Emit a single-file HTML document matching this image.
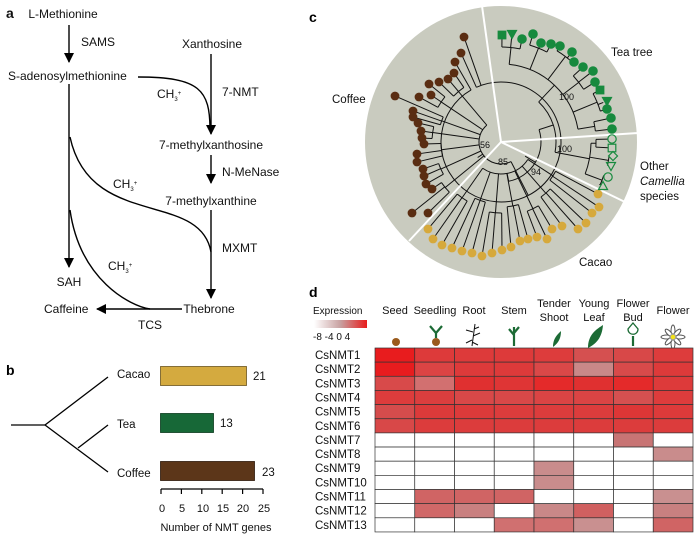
<!DOCTYPE html>
<html><head><meta charset="utf-8"><style>
html,body{margin:0;padding:0;background:#fff;}
svg{display:block;font-family:"Liberation Sans",Arial,sans-serif;}
</style></head><body>
<svg id="s" width="700" height="538" viewBox="0 0 700 538" xmlns="http://www.w3.org/2000/svg">
<defs>
<marker id="ar" markerWidth="10" markerHeight="10" refX="9" refY="5" orient="auto" markerUnits="userSpaceOnUse"><path d="M0,0 L10,5 L0,10 z" fill="#000"/></marker>
<linearGradient id="gr" x1="0" x2="1"><stop offset="0" stop-color="#fff"/><stop offset="0.5" stop-color="#c8a0a0"/><stop offset="1" stop-color="#e81c1c"/></linearGradient>
</defs>
<!-- panel a -->
<g font-size="12" fill="#111">
<text x="6" y="18" font-size="14" font-weight="bold">a</text>
<text x="63" y="18" text-anchor="middle">L-Methionine</text>
<text x="81" y="46">SAMS</text>
<text x="212" y="48" text-anchor="middle">Xanthosine</text>
<text x="8" y="80">S-adenosylmethionine</text>
<text x="222" y="96">7-NMT</text>
<text x="157" y="98">CH<tspan font-size="6" dy="3">3</tspan><tspan font-size="6" dy="-6">+</tspan></text>
<text x="211" y="149" text-anchor="middle">7-methylxanthosine</text>
<text x="222" y="176">N-MeNase</text>
<text x="113" y="188">CH<tspan font-size="6" dy="3">3</tspan><tspan font-size="6" dy="-6">+</tspan></text>
<text x="211" y="205" text-anchor="middle">7-methylxanthine</text>
<text x="222" y="252">MXMT</text>
<text x="108" y="270">CH<tspan font-size="6" dy="3">3</tspan><tspan font-size="6" dy="-6">+</tspan></text>
<text x="69" y="286" text-anchor="middle">SAH</text>
<text x="44" y="313">Caffeine</text>
<text x="209" y="313" text-anchor="middle">Thebrone</text>
<text x="150" y="329" text-anchor="middle">TCS</text>
</g>
<g stroke="#000" stroke-width="1.4" fill="none">
<line x1="69" y1="25" x2="69" y2="62" marker-end="url(#ar)"/>
<line x1="69" y1="84" x2="69" y2="267" marker-end="url(#ar)"/>
<line x1="211" y1="54" x2="211" y2="134" marker-end="url(#ar)"/>
<path d="M138,77 C200,77 210,90 210,130"/>
<line x1="211" y1="155" x2="211" y2="183" marker-end="url(#ar)"/>
<line x1="211" y1="210" x2="211" y2="298" marker-end="url(#ar)"/>
<path d="M70,137 C90,230 200,190 211,252"/>
<path d="M70,210 C80,280 130,306 150,309"/>
<line x1="182" y1="309" x2="97" y2="309" marker-end="url(#ar)"/>
</g>
<!-- panel b -->
<text x="6" y="375" font-size="14" font-weight="bold">b</text>
<g stroke="#000" stroke-width="1.3" fill="none">
<line x1="11" y1="425" x2="45" y2="425"/>
<line x1="45" y1="425" x2="108" y2="377"/>
<line x1="45" y1="425" x2="108" y2="472"/>
<line x1="78" y1="448" x2="108" y2="425"/>
</g>
<g font-size="11.5" fill="#111">
<text x="117" y="378">Cacao</text><text x="117" y="428">Tea</text><text x="117" y="477">Coffee</text>
<text x="253" y="380">21</text><text x="220" y="427">13</text><text x="262" y="476">23</text>
</g>
<rect x="160.5" y="366.5" width="86" height="19" fill="#d4aa3f" stroke="#6b5520" stroke-width="0.8"/>
<rect x="160.5" y="413.5" width="53" height="19" fill="#176837" stroke="#0b3a1d" stroke-width="0.8"/>
<rect x="160.5" y="461.5" width="94" height="19" fill="#5c3619" stroke="#2d1a0a" stroke-width="0.8"/>
<g stroke="#000" stroke-width="1.2">
<line x1="161" y1="489" x2="263" y2="489"/>
<line x1="161" y1="489" x2="161" y2="494"/><line x1="181.4" y1="489" x2="181.4" y2="494"/><line x1="201.8" y1="489" x2="201.8" y2="494"/><line x1="222.2" y1="489" x2="222.2" y2="494"/><line x1="242.6" y1="489" x2="242.6" y2="494"/><line x1="263" y1="489" x2="263" y2="494"/>
</g>
<g font-size="11" fill="#111" text-anchor="middle">
<text x="162" y="512">0</text><text x="182" y="512">5</text><text x="203" y="512">10</text><text x="223" y="512">15</text><text x="243" y="512">20</text><text x="264" y="512">25</text>
<text x="216" y="531">Number of NMT genes</text>
</g>
<!-- panel c -->
<text x="309" y="22" font-size="14" font-weight="bold">c</text>
<circle cx="501" cy="142" r="136" fill="#c9cbbf"/>
<g id="tree" stroke="#111" stroke-width="1" fill="none"></g>
<g stroke="#fff" stroke-width="2">
<line x1="501" y1="142" x2="482" y2="6"/>
<line x1="501" y1="142" x2="638" y2="133"/>
<line x1="501" y1="142" x2="625" y2="202"/>
<line x1="501" y1="142" x2="409" y2="241"/>
</g>
<g id="leaves"></g>
<g font-size="11.5" fill="#111">
<text x="332" y="103">Coffee</text>
<text x="611" y="56">Tea tree</text>
<text x="640" y="170">Other</text>
<text x="640" y="185" font-style="italic">Camellia</text>
<text x="640" y="200">species</text>
<text x="579" y="266">Cacao</text>
</g>
<g font-size="9" fill="#111">
<text x="480" y="148">56</text><text x="559" y="100">100</text><text x="557" y="152">100</text><text x="498" y="165">85</text><text x="531" y="175">94</text>
</g>
<!-- panel d -->
<text x="309" y="297" font-size="14" font-weight="bold">d</text>
<text x="313" y="314" font-size="10" fill="#111">Expression</text>
<rect x="314" y="320" width="53" height="8" fill="url(#gr)"/>
<text x="313" y="340" font-size="10" fill="#111">-8 -4  0  4</text>
<g font-size="11" fill="#111" text-anchor="middle">
<text x="395" y="314">Seed</text><text x="435" y="314">Seedling</text><text x="474" y="314">Root</text><text x="514" y="314">Stem</text>
<text x="554" y="307">Tender</text><text x="554" y="321">Shoot</text>
<text x="594" y="307">Young</text><text x="594" y="321">Leaf</text>
<text x="633" y="307">Flower</text><text x="633" y="321">Bud</text>
<text x="673" y="314">Flower</text>
</g>
<!-- icons -->
<circle cx="396" cy="342" r="4" fill="#9a5a1c"/>
<circle cx="436" cy="342" r="4" fill="#9a5a1c"/>
<g stroke="#1c6b35" stroke-width="2.2" fill="none">
<path d="M436,338 L436,332 M436,333 L430,326 M436,333 L442,326"/>
<path d="M514,346 L514,327 M514,335 L509,329 M514,333 L519,327"/>
<path d="M633,346 L633,336"/>
</g>
<g stroke="#111" stroke-width="1" fill="none">
<path d="M475,324 L472,346 M473,332 L466,330 M473,336 L480,333 M472,340 L466,343 M474,329 L479,327 M472,342 L478,345"/>
</g>
<path d="M553,347 C553,338 558,334 561,331 C561,340 557,344 553,347 z" fill="#1c6b35"/>
<path d="M588,348 C588,334 597,329 603,325 C602,338 596,344 588,348 z" fill="#1c6b35"/>
<path d="M628,329 C628,336 638,336 638,329 L633,323 z" fill="#fff" stroke="#1c6b35" stroke-width="1.3"/>
<g stroke="#555" stroke-width="1" fill="#fff">
<ellipse cx="673" cy="331" rx="2" ry="6"/><ellipse cx="673" cy="343" rx="2" ry="6"/>
<ellipse cx="667" cy="337" rx="6" ry="2"/><ellipse cx="679" cy="337" rx="6" ry="2"/>
<ellipse cx="669" cy="333" rx="2" ry="5" transform="rotate(-45 669 333)"/><ellipse cx="677" cy="341" rx="2" ry="5" transform="rotate(-45 677 341)"/>
<ellipse cx="677" cy="333" rx="2" ry="5" transform="rotate(45 677 333)"/><ellipse cx="669" cy="341" rx="2" ry="5" transform="rotate(45 669 341)"/>
<circle cx="673" cy="337" r="2.8" fill="#f3e21a" stroke="#999"/>
</g>
<g id="hm"></g>
<g id="rl" font-size="11.5" fill="#111"></g>
</svg>
<script>
var NS="http://www.w3.org/2000/svg";
function el(p,t,a){var e=document.createElementNS(NS,t);for(var k in a)e.setAttribute(k,a[k]);p.appendChild(e);return e;}
var W="#ffffff";
var rows=[
["#e81c1e","#dd3a3a","#dd3a3a","#dd3a3a","#dd3c3c","#d55050","#d84848","#dd3c3c"],
["#e81c1e","#db4444","#dd3a3a","#dd3a3a","#da4848","#c98888","#d84a4a","#dd3a3a"],
["#d84a4a","#d27070","#e03030","#df3535","#e42a2a","#e03030","#e42a2a","#dd3a3a"],
["#dd3c3c","#db3e3e","#d84848","#d84848","#da4444","#da4444","#d55050","#dd3c3c"],
["#d54c4c","#dc3a3a","#dc3a3a","#dc3c3c","#dc3c3c","#dc3c3c","#dd3636","#dd3a3a"],
["#d84848","#dc3c3c","#dc3c3c","#dc3c3c","#dc3c3c","#dc3c3c","#dc3c3c","#dc3c3c"],
[W,W,W,W,W,W,"#c87474",W],
[W,W,W,W,W,W,W,"#c98c8c"],
[W,W,W,W,"#c98c8c",W,W,W],
[W,W,W,W,"#c98c8c",W,W,W],
[W,"#d06464","#d06464","#d06464",W,W,W,"#c99090"],
[W,"#d06868","#c98080",W,"#c98888","#d06060",W,"#c88080"],
[W,W,W,"#d07070","#d07070","#c99090",W,"#d06464"]];
var hm=document.getElementById("hm"),rl=document.getElementById("rl");
var x0=375,y0=348,cw=39.75,rh=14.15;
for(var r=0;r<13;r++){for(var c=0;c<8;c++){el(hm,"rect",{x:x0+c*cw,y:y0+r*rh,width:cw,height:rh,fill:rows[r][c],stroke:"#333","stroke-width":0.7});}
var t=el(rl,"text",{x:315,y:y0+r*rh+11});t.textContent="CsNMT"+(r+1);}
var cx=501,cy=142,tr=document.getElementById("tree"),lv=document.getElementById("leaves");
function pol(a,r){return [cx+r*Math.cos(a),cy+r*Math.sin(a)];}
function ang(p){return Math.atan2(p[1]-cy,p[0]-cx);}
function dist(p){return Math.hypot(p[0]-cx,p[1]-cy);}
function arc(a1,a2,r){var p=pol(a1,r),q=pol(a2,r);var big=Math.abs(a2-a1)>Math.PI?1:0;var sw=a2>a1?1:0;el(tr,"path",{d:"M"+p[0]+","+p[1]+" A"+r+","+r+" 0 "+big+" "+sw+" "+q[0]+","+q[1]});}
function rad(a,r1,r2){var p=pol(a,r1),q=pol(a,r2);el(tr,"line",{x1:p[0],y1:p[1],x2:q[0],y2:q[1]});}
function group(pts,rin,rbase,sub){
 var as=pts.map(function(p){var a=ang(p);if(a<-2)a+=2*Math.PI;return a;});
 var mids=[];
 for(var i=0;i<pts.length;i+=sub){var s=as.slice(i,i+sub),ps=pts.slice(i,i+sub);
  var rr=rin+((i*7)%15);
  for(var j=0;j<s.length;j++){rad(s[j],dist(ps[j])-4,rr);}
  if(s.length>1)arc(Math.min.apply(null,s),Math.max.apply(null,s),rr);
  var m=(Math.min.apply(null,s)+Math.max.apply(null,s))/2;mids.push(m);rad(m,rr,rbase);}
 arc(Math.min.apply(null,mids),Math.max.apply(null,mids),rbase);
 return (Math.min.apply(null,mids)+Math.max.apply(null,mids))/2;}
var coffee=[[464,37],[461,53],[455,62],[454,73],[448,79],[439,82],[429,84],[431,95],[419,97],[395,96],[413,111],[413,117],[418,123],[421,131],[422,138],[424,144],[417,154],[417,162],[423,169],[424,176],[426,184],[432,189],[428,213],[412,213]];
var tea=[[502,35],[512,34],[522,39],[533,34],[541,43],[551,44],[560,46],[572,52],[574,62],[583,67],[593,71],[595,82],[600,90],[607,101],[607,109],[611,118],[612,129]];
var oth=[[612,139],[612,148],[613,156],[611,166],[608,177],[603,186]];
var cac=[[598,194],[599,207],[592,213],[586,223],[578,229],[562,226],[552,229],[547,239],[537,237],[528,239],[520,241],[511,247],[502,250],[492,253],[482,256],[472,253],[462,251],[452,248],[442,245],[433,239],[428,229]];
var m1=group(coffee,60,22,3);
var m2=group(tea,95,78,3);
var m3=group(oth,95,90,2);
var m4=group(cac,62,32,3);
rad(m2,78,55);rad(m3,90,55);arc(Math.min(m2,m3),Math.max(m2,m3),55);
var mt=(m2+m3)/2;rad(mt,55,40);rad(m4,32,40);arc(Math.min(mt,m4),Math.max(mt,m4),40);
rad((mt+m4)/2,40,28);rad(m1,22,28);
var green="#178a3e",gold="#d6a93c",brown="#5a2d12";
coffee.forEach(function(p){el(lv,"circle",{cx:p[0],cy:p[1],r:4.4,fill:brown});});
cac.forEach(function(p){el(lv,"circle",{cx:p[0],cy:p[1],r:4.4,fill:gold});});
var ts=["sq","td","c","c","c","c","c","c","c","c","c","c","sq","td","c","c","c"];
function shape(p,k,fill,stroke){var x=p[0],y=p[1];var a={fill:fill,stroke:stroke,"stroke-width":1.2};
 if(k=="c"){a.cx=x;a.cy=y;a.r=4.2;el(lv,"circle",a);}
 else if(k=="sq"){a.x=x-3.8;a.y=y-3.8;a.width=7.6;a.height=7.6;el(lv,"rect",a);}
 else{var d;if(k=="td")d="M"+(x-4.5)+","+(y-3.5)+" L"+(x+4.5)+","+(y-3.5)+" L"+x+","+(y+4.5)+"z";
  else if(k=="tu")d="M"+(x-4.5)+","+(y+3.5)+" L"+(x+4.5)+","+(y+3.5)+" L"+x+","+(y-4.5)+"z";
  else d="M"+x+","+(y-4.5)+" L"+(x+4.5)+","+y+" L"+x+","+(y+4.5)+" L"+(x-4.5)+","+y+"z";
  a.d=d;el(lv,"path",a);}}
tea.forEach(function(p,i){shape(p,ts[i],green,green);});
var os=["c","sq","di","td","c","tu"];
oth.forEach(function(p,i){shape(p,os[i],"none",green);});
</script>
</body></html>
